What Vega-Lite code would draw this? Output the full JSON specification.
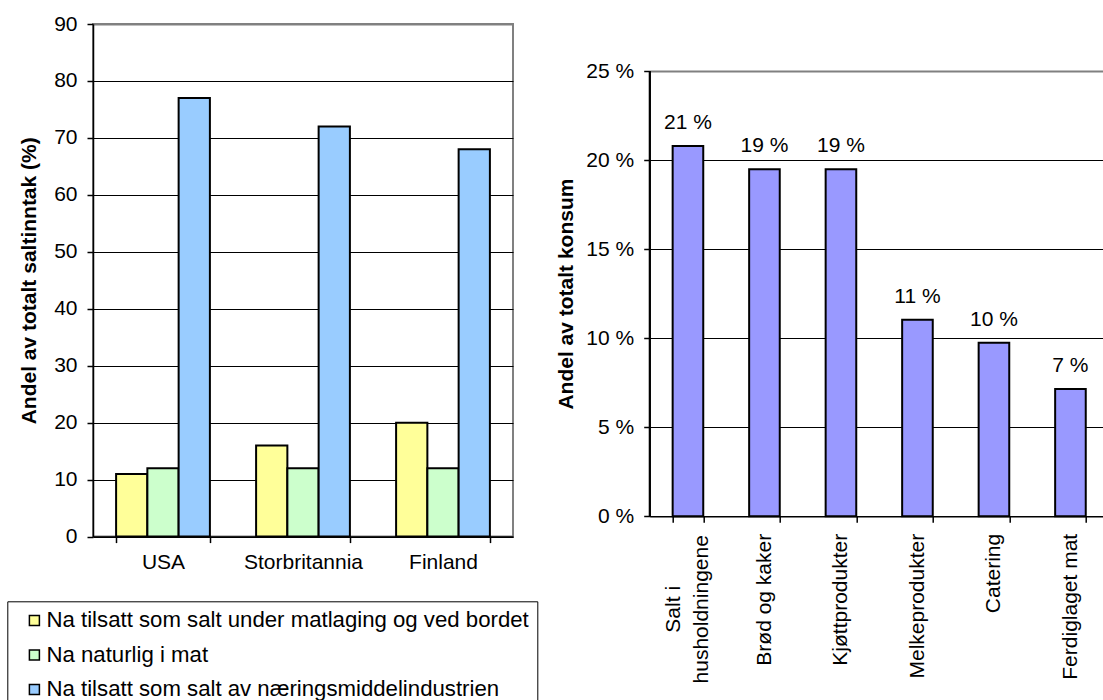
{
  "$schema": "https://vega.github.io/schema/vega-lite/v6.json",
  "padding": {"left": 6, "top": 12, "right": 0, "bottom": 0},
  "spacing": 41.7,
  "config": {
    "font": "Liberation Sans",
    "view": {"stroke": "#808080", "strokeWidth": 2},
    "axis": {
      "labelFont": "Liberation Sans",
      "titleFont": "Liberation Sans",
      "labelColor": "black",
      "titleColor": "black",
      "domainColor": "black",
      "domainWidth": 1.5,
      "tickColor": "black",
      "tickWidth": 1.5,
      "gridColor": "black",
      "gridWidth": 1,
      "labelFontSize": 21,
      "titleFontSize": 21,
      "titleFontWeight": "bold"
    },
    "legend": {"labelFont": "Liberation Sans"}
  },
  "hconcat": [
    {
      "width": 420,
      "height": 512.6,
      "data": {
        "values": [
          {"land": "USA", "kilde": "Na tilsatt som salt under matlaging og ved bordet", "verdi": 11},
          {"land": "USA", "kilde": "Na naturlig i mat", "verdi": 12},
          {"land": "USA", "kilde": "Na tilsatt som salt av næringsmiddelindustrien", "verdi": 77},
          {"land": "Storbritannia", "kilde": "Na tilsatt som salt under matlaging og ved bordet", "verdi": 16},
          {"land": "Storbritannia", "kilde": "Na naturlig i mat", "verdi": 12},
          {"land": "Storbritannia", "kilde": "Na tilsatt som salt av næringsmiddelindustrien", "verdi": 72},
          {"land": "Finland", "kilde": "Na tilsatt som salt under matlaging og ved bordet", "verdi": 20},
          {"land": "Finland", "kilde": "Na naturlig i mat", "verdi": 12},
          {"land": "Finland", "kilde": "Na tilsatt som salt av næringsmiddelindustrien", "verdi": 68}
        ]
      },
      "mark": {"type": "bar", "stroke": "black", "strokeWidth": 2},
      "encoding": {
        "x": {
          "field": "land",
          "type": "nominal",
          "sort": ["USA", "Storbritannia", "Finland"],
          "scale": {"paddingInner": 0.33, "paddingOuter": 0.165},
          "axis": {"title": null, "labelAngle": 0, "tickBand": "extent", "tickSize": 6, "labelPadding": 9, "grid": false}
        },
        "xOffset": {
          "field": "kilde",
          "sort": ["Na tilsatt som salt under matlaging og ved bordet", "Na naturlig i mat", "Na tilsatt som salt av næringsmiddelindustrien"],
          "scale": {"paddingInner": 0, "paddingOuter": 0}
        },
        "y": {
          "field": "verdi",
          "type": "quantitative",
          "scale": {"domain": [0, 90], "nice": false},
          "axis": {
            "values": [0, 10, 20, 30, 40, 50, 60, 70, 80, 90],
            "title": "Andel av totalt saltinntak (%)",
            "tickSize": 6,
            "labelPadding": 10,
            "titlePadding": 14,
            "grid": true,
            "gridColor": {"condition": {"test": "datum.value == 90", "value": "#808080"}, "value": "black"},
            "gridWidth": {"condition": {"test": "datum.value == 90", "value": 2}, "value": 1}
          }
        },
        "color": {
          "field": "kilde",
          "type": "nominal",
          "scale": {
            "domain": ["Na tilsatt som salt under matlaging og ved bordet", "Na naturlig i mat", "Na tilsatt som salt av næringsmiddelindustrien"],
            "range": ["#FFFF99", "#CCFFCC", "#99CCFF"]
          },
          "legend": {
            "orient": "none",
            "legendX": -85.7,
            "legendY": 577.3,
            "direction": "vertical",
            "title": null,
            "symbolType": "square",
            "symbolSize": 100,
            "symbolStrokeColor": "black",
            "symbolStrokeWidth": 1.5,
            "symbolOpacity": 1,
            "labelFontSize": 22.2,
            "labelColor": "black",
            "labelLimit": 600,
            "strokeColor": "black",
            "fillColor": "white",
            "padding": 8,
            "symbolOffset": 8,
            "labelOffset": 1,
            "rowPadding": 11.5
          }
        }
      }
    },
    {
      "width": 459,
      "height": 492.3,
      "view": {"stroke": null},
      "data": {
        "values": [
          {"kategori": "Salt i husholdningene", "andel": 20.8, "etikett": "21 %"},
          {"kategori": "Brød og kaker", "andel": 19.5, "etikett": "19 %"},
          {"kategori": "Kjøttprodukter", "andel": 19.5, "etikett": "19 %"},
          {"kategori": "Melkeprodukter", "andel": 11.05, "etikett": "11 %"},
          {"kategori": "Catering", "andel": 9.75, "etikett": "10 %"},
          {"kategori": "Ferdiglaget mat", "andel": 7.15, "etikett": "7 %"}
        ]
      },
      "encoding": {
        "x": {
          "field": "kategori",
          "type": "nominal",
          "sort": null,
          "scale": {"paddingInner": 0.6, "paddingOuter": 0.3},
          "axis": {
            "title": null,
            "labelAngle": -90,
            "tickBand": "extent",
            "tickSize": 6,
            "labelPadding": {"condition": {"test": "datum.value == 'Salt i husholdningene'", "value": 86.5}, "value": 11},
            "labelAlign": {"condition": {"test": "datum.value == 'Salt i husholdningene'", "value": "center"}, "value": "right"},
            "labelLineHeight": 28,
            "labelOffset": {"condition": {"test": "datum.value == 'Salt i husholdningene'", "value": -14}, "value": 0},
            "grid": false,
            "labelExpr": "datum.value == 'Salt i husholdningene' ? ['Salt i', 'husholdningene'] : datum.value"
          }
        },
        "y": {
          "field": "andel",
          "type": "quantitative",
          "scale": {"domain": [0, 27.66], "nice": false},
          "axis": {
            "values": [0, 5, 10, 15, 20, 25],
            "labelExpr": "datum.value + ' %'",
            "title": "Andel av totalt konsum",
            "titleY": 269.6,
            "titleAnchor": "middle",
            "tickSize": 6,
            "labelPadding": 10,
            "titlePadding": 9,
            "domain": false,
            "grid": true,
            "gridColor": {"condition": {"test": "datum.value == 25", "value": "#808080"}, "value": "black"},
            "gridWidth": {"condition": {"test": "datum.value == 25", "value": 2}, "value": 1}
          }
        }
      },
      "layer": [
        {"mark": {"type": "bar", "fill": "#9999FF", "stroke": "black", "strokeWidth": 2}},
        {
          "mark": {"type": "text", "baseline": "alphabetic", "dy": -17, "fontSize": 21, "color": "black"},
          "encoding": {"text": {"field": "etikett"}}
        },
        {
          "mark": {"type": "rule", "color": "black", "strokeWidth": 1.5},
          "encoding": {
            "x": {"datum": "Salt i husholdningene", "bandPosition": -0.75},
            "y": {"datum": 0},
            "y2": {"datum": 25}
          }
        }
      ]
    }
  ]
}
